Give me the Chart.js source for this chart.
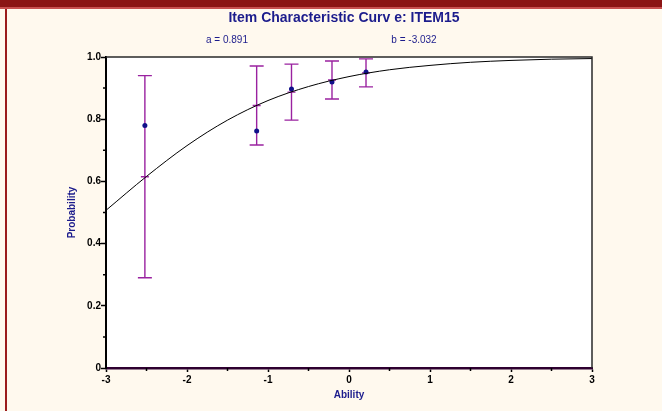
<!DOCTYPE html>
<html>
<head>
<meta charset="utf-8">
<script src="https://cdn.jsdelivr.net/npm/chart.js@4"></script>
<style>
  html, body { margin: 0; padding: 0; background: #fff9ee; }
  #wrap { position: relative; width: 662px; height: 411px; overflow: hidden; }
  #topband { position: absolute; left: 0; top: 0; width: 662px; height: 7px; background: #8b1414; border-bottom: 2px solid #c85050; }
  #leftline { position: absolute; left: 5px; top: 9px; width: 2px; height: 402px; background: #9b1c1c; }
  canvas { position: absolute; left: 0; top: 0; }
</style>
</head>
<body>
<div id="wrap">
  <canvas id="icc" width="662" height="411"></canvas>
  <div id="topband"></div>
  <div id="leftline"></div>
</div>
<script>
// ===== Data =====
const curveX = [-3, -2.5, -2, -1.5, -1, -0.5, 0, 0.5, 1, 1.5, 2, 2.5, 3];
const curveY = [0.507, 0.616, 0.715, 0.797, 0.86, 0.905, 0.937, 0.959, 0.973, 0.983, 0.989, 0.993, 0.995];

const obsX = [-2.52, -1.14, -0.71, -0.21, 0.21];
const obsY = [0.78, 0.762, 0.897, 0.92, 0.952];
const barLow = [0.29, 0.717, 0.797, 0.865, 0.904];
const barHigh = [0.94, 0.971, 0.977, 0.987, 0.994];
const barMid = [0.615, 0.844, 0.887, 0.926, 0.949];

const xTicks = [-3, -2, -1, 0, 1, 2, 3];
const xTickLabels = ["-3", "-2", "-1", "0", "1", "2", "3"];
const xMinor = [-2.5, -1.5, -0.5, 0.5, 1.5, 2.5];
const yTicks = [0, 0.2, 0.4, 0.6, 0.8, 1.0];
const yTickLabels = ["0", "0.2", "0.4", "0.6", "0.8", "1.0"];
const yMinor = [0.1, 0.3, 0.5, 0.7, 0.9];

const titleText = "Item Characteristic Curv e: ITEM15";
const paramA = "a = 0.891";
const paramB = "b = -3.032";

const NAVY = "#1c1c8c";
const PURPLE = "#9a22a0";
const FONT = "'Liberation Sans', Arial, sans-serif";

// ===== Plugins =====
const frame = {
  id: "frame",
  beforeDraw(chart) {
    const { ctx, chartArea: a } = chart;
    ctx.save();
    ctx.fillStyle = "#ffffff";
    ctx.fillRect(a.left, a.top, a.right - a.left, a.bottom - a.top);
    ctx.restore();
  },
  afterDraw(chart) {
    const { ctx, chartArea: a, scales } = chart;
    ctx.save();
    // top and right edges
    ctx.strokeStyle = "#2a2a2a";
    ctx.lineWidth = 1.5;
    ctx.beginPath();
    ctx.moveTo(a.left, a.top);
    ctx.lineTo(a.right, a.top);
    ctx.lineTo(a.right, a.bottom);
    ctx.stroke();

    // minor ticks
    ctx.strokeStyle = "#000";
    ctx.lineWidth = 1.5;
    ctx.beginPath();
    yMinor.forEach(v => {
      const y = scales.y.getPixelForValue(v);
      ctx.moveTo(a.left - 3, y);
      ctx.lineTo(a.left, y);
    });
    xMinor.forEach(v => {
      const x = scales.x.getPixelForValue(v);
      ctx.moveTo(x, a.bottom);
      ctx.lineTo(x, a.bottom + 3);
    });
    ctx.stroke();

    // heading texts
    ctx.fillStyle = NAVY;
    ctx.textAlign = "center";
    ctx.textBaseline = "middle";
    ctx.font = "bold 14px " + FONT;
    ctx.fillText(titleText, 344, 18.5);
    ctx.font = "10px " + FONT;
    ctx.fillText(paramA, 227, 40);
    ctx.fillText(paramB, 414, 40);
    ctx.restore();
  }
};

const errorBars = {
  id: "errorBars",
  beforeDatasetsDraw(chart) {
    const { ctx, scales } = chart;
    ctx.save();
    ctx.strokeStyle = PURPLE;
    ctx.lineWidth = 1.4;
    obsX.forEach((xv, i) => {
      const x = scales.x.getPixelForValue(xv);
      const yl = scales.y.getPixelForValue(barLow[i]);
      const yh = scales.y.getPixelForValue(barHigh[i]);
      const ym = scales.y.getPixelForValue(barMid[i]);
      ctx.beginPath();
      ctx.moveTo(x, yl);
      ctx.lineTo(x, yh);
      ctx.moveTo(x - 7, yl);
      ctx.lineTo(x + 7, yl);
      ctx.moveTo(x - 7, yh);
      ctx.lineTo(x + 7, yh);
      ctx.moveTo(x - 4, ym);
      ctx.lineTo(x + 4, ym);
      ctx.stroke();
    });
    ctx.restore();
  }
};

// ===== Chart =====
const ctx = document.getElementById("icc").getContext("2d");
new Chart(ctx, {
  type: "scatter",
  data: {
    datasets: [
      {
        label: "ICC",
        type: "line",
        data: curveX.map((x, i) => ({ x, y: curveY[i] })),
        borderColor: "#000",
        borderWidth: 1,
        pointRadius: 0,
        cubicInterpolationMode: "monotone",
        fill: false
      },
      {
        label: "Observed",
        data: obsX.map((x, i) => ({ x, y: obsY[i] })),
        backgroundColor: "#10108a",
        borderColor: "#10108a",
        pointRadius: 2.5,
        borderWidth: 0
      }
    ]
  },
  options: {
    responsive: false,
    animation: false,
    layout: { padding: { top: 57, right: 70, left: 0, bottom: 0 } },
    plugins: { legend: { display: false }, tooltip: { enabled: false } },
    scales: {
      x: {
        type: "linear",
        min: -3,
        max: 3,
        afterBuildTicks: s => { s.ticks = xTicks.map(v => ({ value: v })); },
        afterFit: s => { s.height = 43; },
        border: { display: true, color: "#2e0030", width: 2.5 },
        grid: { drawOnChartArea: false, drawTicks: true, tickLength: 4, tickColor: "#000", tickWidth: 1.5 },
        ticks: {
          padding: 2,
          color: "#000",
          font: { family: FONT, size: 10, weight: "bold" },
          maxRotation: 0,
          callback: (v, i) => xTickLabels[i]
        },
        title: {
          display: true,
          text: "Ability",
          color: NAVY,
          font: { family: FONT, size: 10, weight: "bold" },
          padding: { top: 0, bottom: 10 }
        }
      },
      y: {
        type: "linear",
        min: 0,
        max: 1,
        afterBuildTicks: s => { s.ticks = yTicks.map(v => ({ value: v })); },
        afterFit: s => { s.width = 106; },
        border: { display: true, color: "#000", width: 2 },
        grid: { drawOnChartArea: false, drawTicks: true, tickLength: 5, tickColor: "#000", tickWidth: 1.5 },
        ticks: {
          padding: 0,
          color: "#000",
          font: { family: FONT, size: 10, weight: "bold" },
          callback: (v, i) => yTickLabels[i]
        },
        title: {
          display: true,
          text: "Probability",
          color: NAVY,
          font: { family: FONT, size: 10, weight: "bold" },
          padding: { top: 66, bottom: 0 }
        }
      }
    }
  },
  plugins: [frame, errorBars]
});
</script>
</body>
</html>
